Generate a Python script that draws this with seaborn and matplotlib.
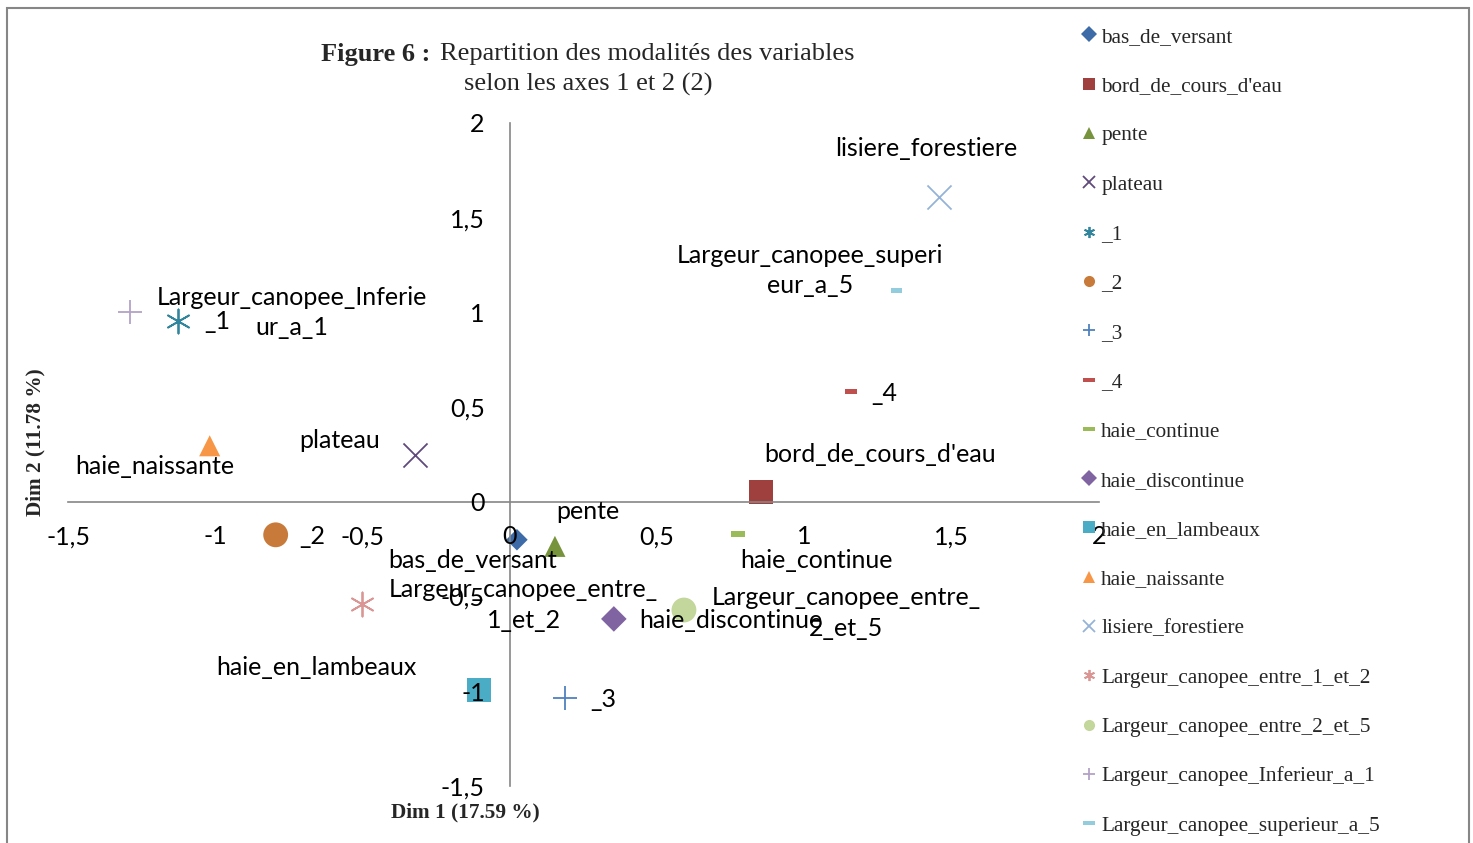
import numpy as np
import pandas as pd
import matplotlib
matplotlib.use("Agg")
import matplotlib.pyplot as plt
import seaborn as sns
from matplotlib.lines import Line2D
from matplotlib.path import Path
from matplotlib.patches import Rectangle

# modalités et coordonnées (Dim 1, Dim 2)
modalites = [
    "bas_de_versant", "bord_de_cours_d'eau", "pente", "plateau",
    "_1", "_2", "_3", "_4",
    "haie_continue", "haie_discontinue", "haie_en_lambeaux", "haie_naissante",
    "lisiere_forestiere",
    "Largeur_canopee_entre_1_et_2", "Largeur_canopee_entre_2_et_5",
    "Largeur_canopee_Inferieur_a_1", "Largeur_canopee_superieur_a_5",
]
dim1 = [0.024, 0.853, 0.153, -0.323, -1.125, -0.795, 0.187, 1.159,
        0.775, 0.353, -0.105, -1.019, 1.458, -0.503, 0.591, -1.291, 1.312]
dim2 = [-0.20, 0.05, -0.235, 0.248, 0.956, -0.174, -1.035, 0.581,
        -0.169, -0.618, -0.993, 0.296, 1.611, -0.539, -0.571, 1.004, 1.115]

# étiquettes affichées sur le graphique (coupées comme dans Excel)
etiquettes = [
    "bas_de_versant", "bord_de_cours_d'eau", "pente", "plateau",
    "_1", "_2", "_3", "_4",
    "haie_continue", "haie_discontinue", "haie_en_lambeaux", "haie_naissante",
    "lisiere_forestiere",
    "Largeur_canopee_entre_\n1_et_2", "Largeur_canopee_entre_\n2_et_5",
    "Largeur_canopee_Inferie\nur_a_1", "Largeur_canopee_superi\neur_a_5",
]

# style des marqueurs
dash = Path([(-1, -0.4), (1, -0.4), (1, 0.4), (-1, 0.4), (-1, -0.4)],
            [Path.MOVETO, Path.LINETO, Path.LINETO, Path.LINETO, Path.CLOSEPOLY])
couleurs = ["#3C6BA8", "#A0403E", "#77933C", "#604A7B",
            "#31859C", "#C87A3A", "#4F81BD", "#C0504D",
            "#9BBB59", "#8064A2", "#4BACC6", "#F79646",
            "#95B3D7", "#D99694", "#C3D69B", "#B3A2C7", "#93CDDD"]
marqueurs = ["D", "s", "^", "x", (6, 2, 0), "o", "+", dash,
             dash, "D", "s", "^", "x", (6, 2, 0), "o", "+", dash]
tailles = [120, 300, 230, 300, 300, 320, 300, 70,
           110, 170, 300, 230, 300, 300, 320, 300, 70]

# décalage des étiquettes (pixels, vers le haut positif)
dx = [-44, 119, 33, -75, 39, 37, 38, 33, 78, 117, -162, -55, -13, 162, 162, 162, -86]
dy = [-21, 38, 35, 14, -1, -2, -2, -2, -27, -2, 22, -21, 48, -1, -3, -1, 20]

df = pd.DataFrame({"modalite": modalites, "dim1": dim1, "dim2": dim2})

sns.set_style("white")
plt.rcParams["font.family"] = ["Lato", "DejaVu Sans"]

fig = plt.figure(figsize=(14.73, 8.43), dpi=100)
ax = fig.add_axes([68 / 1473, 1 - 786 / 843, (1099 - 68) / 1473, (786 - 123) / 843])
ax.set_axisbelow(False)

for i, row in df.iterrows():
    m = marqueurs[i]
    filled = m not in ("x", "+") and not isinstance(m, tuple)
    kw = dict(edgecolor="none") if filled else dict(linewidth=1.3)
    sns.scatterplot(x=[row.dim1], y=[row.dim2], marker=m, color=couleurs[i],
                    s=tailles[i], ax=ax, legend=False, zorder=1.2, **kw)

for i, row in df.iterrows():
    ax.annotate(etiquettes[i], xy=(row.dim1, row.dim2), xytext=(dx[i], dy[i]),
                textcoords="offset pixels", ha="center", va="center",
                fontsize=18, color="black", multialignment="center",
                linespacing=1.4, zorder=4)

ax.set_xlim(-1.5, 2)
ax.set_ylim(-1.5, 2)
ticks = np.arange(-1.5, 2.01, 0.5)
ax.set_xticks(ticks)
ax.set_yticks(ticks)
fmt = lambda v: ("%g" % v).replace(".", ",")
ax.set_xticklabels([fmt(v) for v in ticks])
ax.set_yticklabels([fmt(v) for v in ticks])

for s in ("top", "right"):
    ax.spines[s].set_visible(False)
ax.spines["left"].set_position(("data", 0))
ax.spines["bottom"].set_position(("data", 0))
for s in ("left", "bottom"):
    ax.spines[s].set_color("#868686")
    ax.spines[s].set_linewidth(1.2)
ax.tick_params(axis="both", direction="out", length=6, width=1.2,
               color="#868686", labelsize=18, labelcolor="black")
ax.tick_params(axis="x", pad=11)
ax.tick_params(axis="y", pad=12)
ax.patch.set_alpha(0)
ax.set_xlabel("")
ax.set_ylabel("")

# titres
serif = "Liberation Serif"
fig.text(321 / 1473, 1 - 54 / 843, "Figure 6 :", ha="left", va="center",
         fontsize=19, fontweight="bold", family=serif)
fig.text(440 / 1473, 1 - 54 / 843, "Repartition des modalités des variables",
         ha="left", va="center", fontsize=19, family=serif)
fig.text(588 / 1473, 1 - 84 / 843, "selon les axes 1 et 2 (2)",
         ha="center", va="center", fontsize=19, family=serif)
fig.text(465 / 1473, 1 - 812 / 843, "Dim 1 (17.59 %)", ha="center", va="center",
         fontsize=15.3, fontweight="bold", family=serif)
fig.text(35 / 1473, 1 - 442 / 843, "Dim 2 (11.78 %)", ha="center", va="center",
         rotation=90, fontsize=15.3, fontweight="bold", family=serif)

# légende
handles = []
for i in range(len(modalites)):
    m = marqueurs[i]
    filled = m not in ("x", "+") and not isinstance(m, tuple)
    handles.append(Line2D([], [], linestyle="none", marker=m, color=couleurs[i],
                          markersize=8, markeredgewidth=0 if filled else 1.3))
fig.legend(handles, modalites, loc="upper left", bbox_to_anchor=(1082 / 1473, 1 - 27 / 843),
           frameon=False, prop={"family": serif, "size": 15.3},
           handlelength=0.7, handletextpad=0.2, labelspacing=1.385, borderaxespad=0,
           borderpad=0)

# cadre extérieur
fig.patches.append(Rectangle((7 / 1473, -0.05), (1469 - 7) / 1473, 1 - 8 / 843 + 0.05,
                             transform=fig.transFigure, fill=False,
                             edgecolor="#868686", linewidth=1.5))

fig.savefig("out.png", dpi=100)
